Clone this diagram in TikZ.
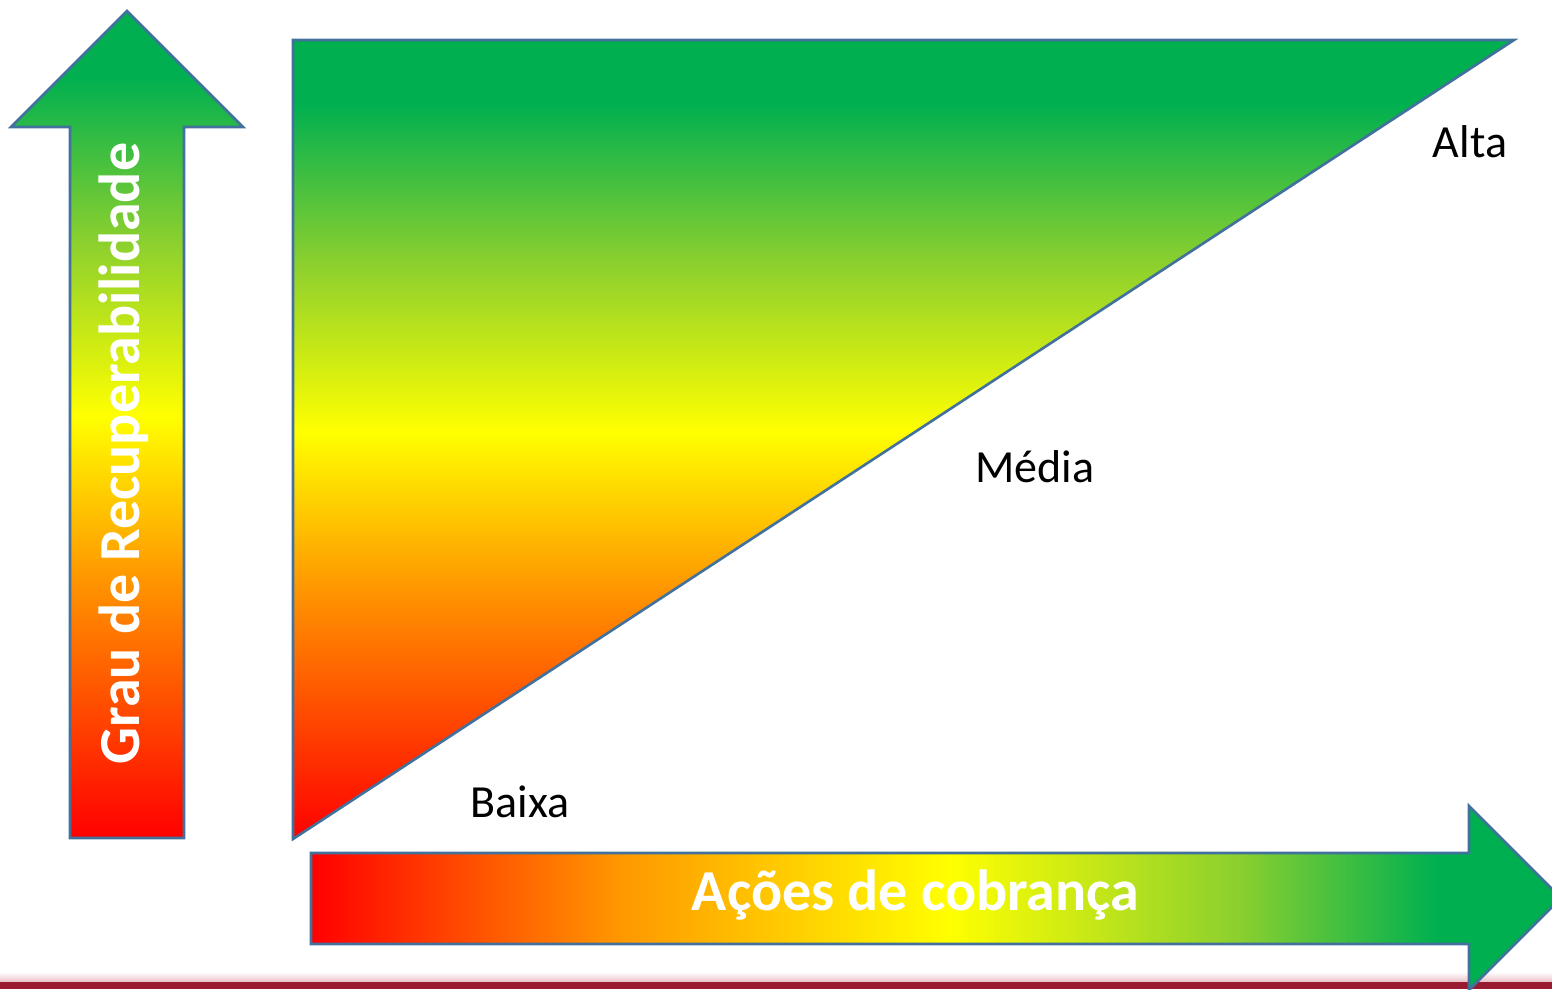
\documentclass[tikz,border=0pt]{standalone}
\usepackage{fontspec}
\setmainfont{Carlito}
\definecolor{cred}{HTML}{FF0000}
\definecolor{corange}{HTML}{FF9900}
\definecolor{cyellow}{HTML}{FFFF00}
\definecolor{clgreen}{HTML}{8CD02E}
\definecolor{cgreen}{HTML}{00B050}
\definecolor{cborder}{HTML}{41719C}
\definecolor{cline}{HTML}{981B31}
\definecolor{cpink}{HTML}{EBC3CA}
\pgfdeclareverticalshading{vgrad}{100bp}{color(0bp)=(cred); color(25bp)=(cred); color(41bp)=(corange); color(50.5bp)=(cyellow); color(61bp)=(clgreen); color(71bp)=(cgreen); color(100bp)=(cgreen)}
\pgfdeclarehorizontalshading{hgrad}{100bp}{color(0bp)=(cred); color(25bp)=(cred); color(37.5bp)=(corange); color(50.5bp)=(cyellow); color(62bp)=(clgreen); color(70bp)=(cgreen); color(100bp)=(cgreen)}
\tikzset{
  shapeline/.style={draw=cborder, line width=2.6pt, line join=miter},
  axislabel/.style={text=white, font=\bfseries\fontsize{58}{60}\selectfont, inner sep=0pt, anchor=base},
  levellabel/.style={text=black, font=\fontsize{46}{48}\selectfont, inner sep=0pt, anchor=base}
}
\begin{document}
\begin{tikzpicture}[x=1pt,y=-1pt]
\useasboundingbox (0,0) rectangle (1552,989);
\clip (0,0) rectangle (1552,989);
% bottom line
\shade[top color=white, bottom color=cpink] (0,972) rectangle (1552,981.5);
\fill[cline] (0,981.5) rectangle (1552,989);
% triangle
\shade[shading=vgrad, shapeline] (293,40) -- (1514,40) -- (293,839) -- cycle;
% vertical arrow
\shade[shading=vgrad, shapeline] (70,838) -- (70,127) -- (11,127) -- (127,11) -- (243,127) -- (184,127) -- (184,838) -- cycle;
% horizontal arrow
\shade[shading=hgrad, shapeline] (311,853) -- (1469,853) -- (1469,806) -- (1561,898) -- (1469,990) -- (1469,944) -- (311,944) -- cycle;
% texts
\node[axislabel, rotate=90] (grau) at (139,453.5) {Grau de Recuperabilidade};
\node[axislabel] (acoes) at (915.5,910) {Ações de cobrança};
\node[levellabel] (alta) at (1470,157) {Alta};
\node[levellabel] (media) at (1035,482) {Média};
\node[levellabel] (baixa) at (520,817) {Baixa};
\end{tikzpicture}
\end{document}
